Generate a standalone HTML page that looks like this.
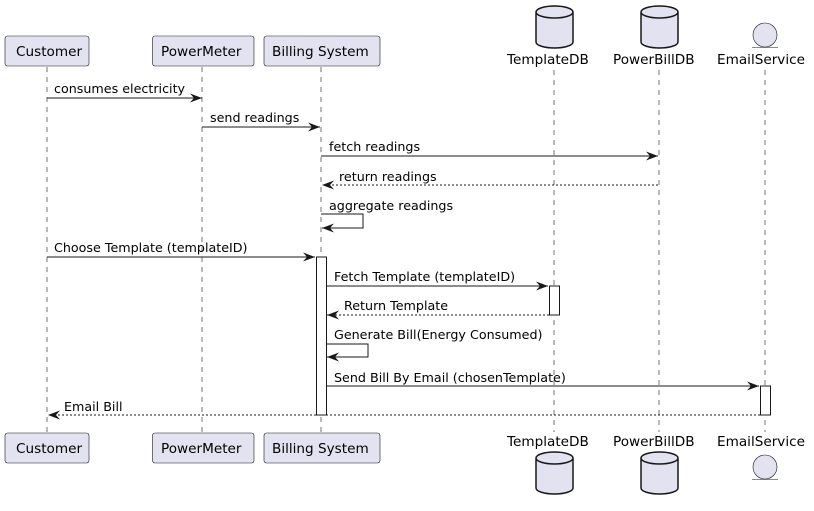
<!DOCTYPE html>
<html><head><style>body{margin:0;background:#fff}svg{display:block}text{font-family:"DejaVu Sans","Liberation Sans",sans-serif;font-size:12.7px;fill:#000}.p{font-size:13.6px}</style></head><body>
<svg width="814" height="511" viewBox="0 0 814 511">
<defs>
<marker id="a" markerWidth="13" markerHeight="11" refX="12" refY="5.5" orient="auto" markerUnits="userSpaceOnUse"><polygon points="0,1 12,5.5 0,10 4,5.5" fill="#181818"/></marker>
</defs>
<g stroke="#181818" stroke-width="0.6" stroke-dasharray="5,5">
<line x1="47" y1="67" x2="47" y2="432"/><line x1="202" y1="67" x2="202" y2="432"/><line x1="321" y1="67" x2="321" y2="432"/><line x1="554" y1="70" x2="554" y2="432"/><line x1="659" y1="70" x2="659" y2="432"/><line x1="765" y1="70" x2="765" y2="432"/>
</g>
<g fill="#E2E2F0" stroke="#181818" stroke-width="0.6">
<rect x="5" y="36" width="84" height="30" rx="2.5"/><rect x="152.5" y="36" width="101.5" height="30" rx="2.5"/><rect x="264" y="36" width="116" height="30" rx="2.5"/>
<rect x="5" y="433" width="84" height="30" rx="2.5"/><rect x="152.5" y="433" width="101.5" height="30" rx="2.5"/><rect x="264" y="433" width="116" height="30" rx="2.5"/>
</g>
<g fill="#E2E2F0" stroke="#181818" stroke-width="1.5">
<path d="M536,12 v30 a18.5,6 0 0 0 37,0 v-30 a18.5,6 0 0 0 -37,0 a18.5,6 0 0 0 37,0"/>
<path d="M641,12 v30 a18.5,6 0 0 0 37,0 v-30 a18.5,6 0 0 0 -37,0 a18.5,6 0 0 0 37,0"/>
<path d="M536,458 v30 a18.5,6 0 0 0 37,0 v-30 a18.5,6 0 0 0 -37,0 a18.5,6 0 0 0 37,0"/>
<path d="M641,458 v30 a18.5,6 0 0 0 37,0 v-30 a18.5,6 0 0 0 -37,0 a18.5,6 0 0 0 37,0"/>
</g>
<g fill="#E2E2F0" stroke="#181818" stroke-width="0.6">
<circle cx="765" cy="35" r="12"/><line x1="752" y1="47.5" x2="778" y2="47.5"/>
<circle cx="765" cy="467" r="12"/><line x1="752" y1="479.5" x2="778" y2="479.5"/>
</g>
<text class="p" x="16" y="56">Customer</text><text class="p" x="161" y="56">PowerMeter</text><text class="p" x="272" y="56">Billing System</text>
<text class="p" x="16" y="453">Customer</text><text class="p" x="161" y="453">PowerMeter</text><text class="p" x="272" y="453">Billing System</text>
<text class="p" x="507" y="64">TemplateDB</text><text class="p" x="613" y="64">PowerBillDB</text><text class="p" x="717" y="64">EmailService</text>
<text class="p" x="507" y="446">TemplateDB</text><text class="p" x="613" y="446">PowerBillDB</text><text class="p" x="717" y="446">EmailService</text>
<g fill="#fff" stroke="#181818" stroke-width="1">
<rect x="316.5" y="257" width="10" height="158"/><rect x="549.5" y="286" width="10" height="29"/><rect x="760.5" y="386" width="10" height="29"/>
</g>
<g stroke="#181818" stroke-width="1" fill="none" marker-end="url(#a)">
<line x1="47" y1="98" x2="202" y2="98"/>
<line x1="202" y1="127" x2="320" y2="127"/>
<line x1="321" y1="156" x2="658" y2="156"/>
<line x1="658" y1="185" x2="322" y2="185" stroke-dasharray="2,2"/>
<polyline points="321,214 363,214 363,228 322,228"/>
<line x1="47" y1="257" x2="315" y2="257"/>
<line x1="326" y1="286" x2="548" y2="286"/>
<line x1="549" y1="315" x2="327" y2="315" stroke-dasharray="2,2"/>
<polyline points="326,344 368,344 368,357 327,357"/>
<line x1="326" y1="386" x2="759" y2="386"/>
<line x1="760" y1="415" x2="48" y2="415" stroke-dasharray="2,2"/>
</g>
<text x="54" y="93">consumes electricity</text>
<text x="210" y="122">send readings</text>
<text x="329" y="151">fetch readings</text>
<text x="339" y="181">return readings</text>
<text x="329" y="210">aggregate readings</text>
<text x="54" y="252">Choose Template (templateID)</text>
<text x="334" y="281">Fetch Template (templateID)</text>
<text x="344" y="310">Return Template</text>
<text x="334" y="339">Generate Bill(Energy Consumed)</text>
<text x="334" y="382">Send Bill By Email (chosenTemplate)</text>
<text x="64" y="411">Email Bill</text>
</svg>
</body></html>
